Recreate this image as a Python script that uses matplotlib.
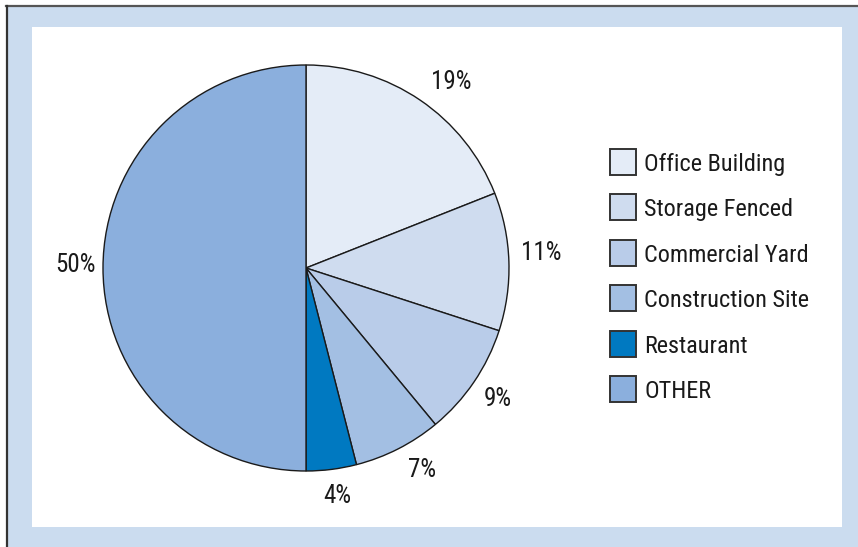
import matplotlib
matplotlib.use("Agg")
from matplotlib import pyplot as plt
from matplotlib.patches import Rectangle

# Chart data
categories = ["Office Building", "Storage Fenced", "Commercial Yard",
              "Construction Site", "Restaurant", "OTHER"]
shares = [19, 11, 9, 7, 4, 50]
colors = ["#e4ecf7", "#cfdcef", "#b9cce9", "#a3bfe3", "#0079c1", "#8bafdd"]
# small pixel nudges (x right, y up) for the percent labels
label_nudge = [(15, -3), (4, 10), (0, 2), (11, 7), (2, 4), (1, 5)]

W, H = 858, 547
plt.rcParams['font.family'] = ['Roboto Condensed', 'DejaVu Sans']

fig = plt.figure(figsize=(W / 100, H / 100), dpi=100)
ax = fig.add_axes([0, 0, 1, 1])
ax.set_xlim(0, W)
ax.set_ylim(0, H)
ax.axis('off')

# frame: light blue border, dark rule top/left, white panel
ax.add_patch(Rectangle((6, 0), W - 6, H - 6, facecolor="#cbdcef", edgecolor="none", zorder=0))
ax.plot([6, W], [H - 5.5, H - 5.5], color="#555555", lw=1.6, zorder=1)
ax.plot([6.5, 6.5], [0, H - 5.5], color="#333333", lw=1.6, zorder=1)
ax.add_patch(Rectangle((32, H - 527), 810, 500, facecolor="white", edgecolor="none", zorder=1))

# pie
wedges, texts, autotexts = ax.pie(
    shares, colors=colors, startangle=90, counterclock=False,
    center=(306, H - 268), radius=203, frame=True,
    autopct=lambda p: "%d%%" % round(p), pctdistance=1.14,
    wedgeprops=dict(edgecolor="#1a1a1a", linewidth=1.0),
    textprops=dict(fontsize=18, color="#1a1a1a"))
for w in wedges:
    w.set_zorder(3)
for t, (dx, dy) in zip(autotexts, label_nudge):
    x, y = t.get_position()
    t.set_position((x + dx, y + dy))
    t.set_va('center_baseline')
ax.set_xlim(0, W)
ax.set_ylim(0, H)
ax.set_aspect('auto')
ax.axis('off')

# legend
y0 = 162
step = 45.4
for i, (name, col) in enumerate(zip(categories, colors)):
    yc = H - (y0 + i * step)
    ax.add_patch(Rectangle((610, yc - 13), 26, 26, facecolor=col,
                           edgecolor="#333333", lw=1.4, zorder=3))
    ax.text(644, yc, name, fontsize=17.5, color="#1a1a1a",
            va='center_baseline', ha='left', zorder=3)

fig.savefig("out.png", dpi=100)
